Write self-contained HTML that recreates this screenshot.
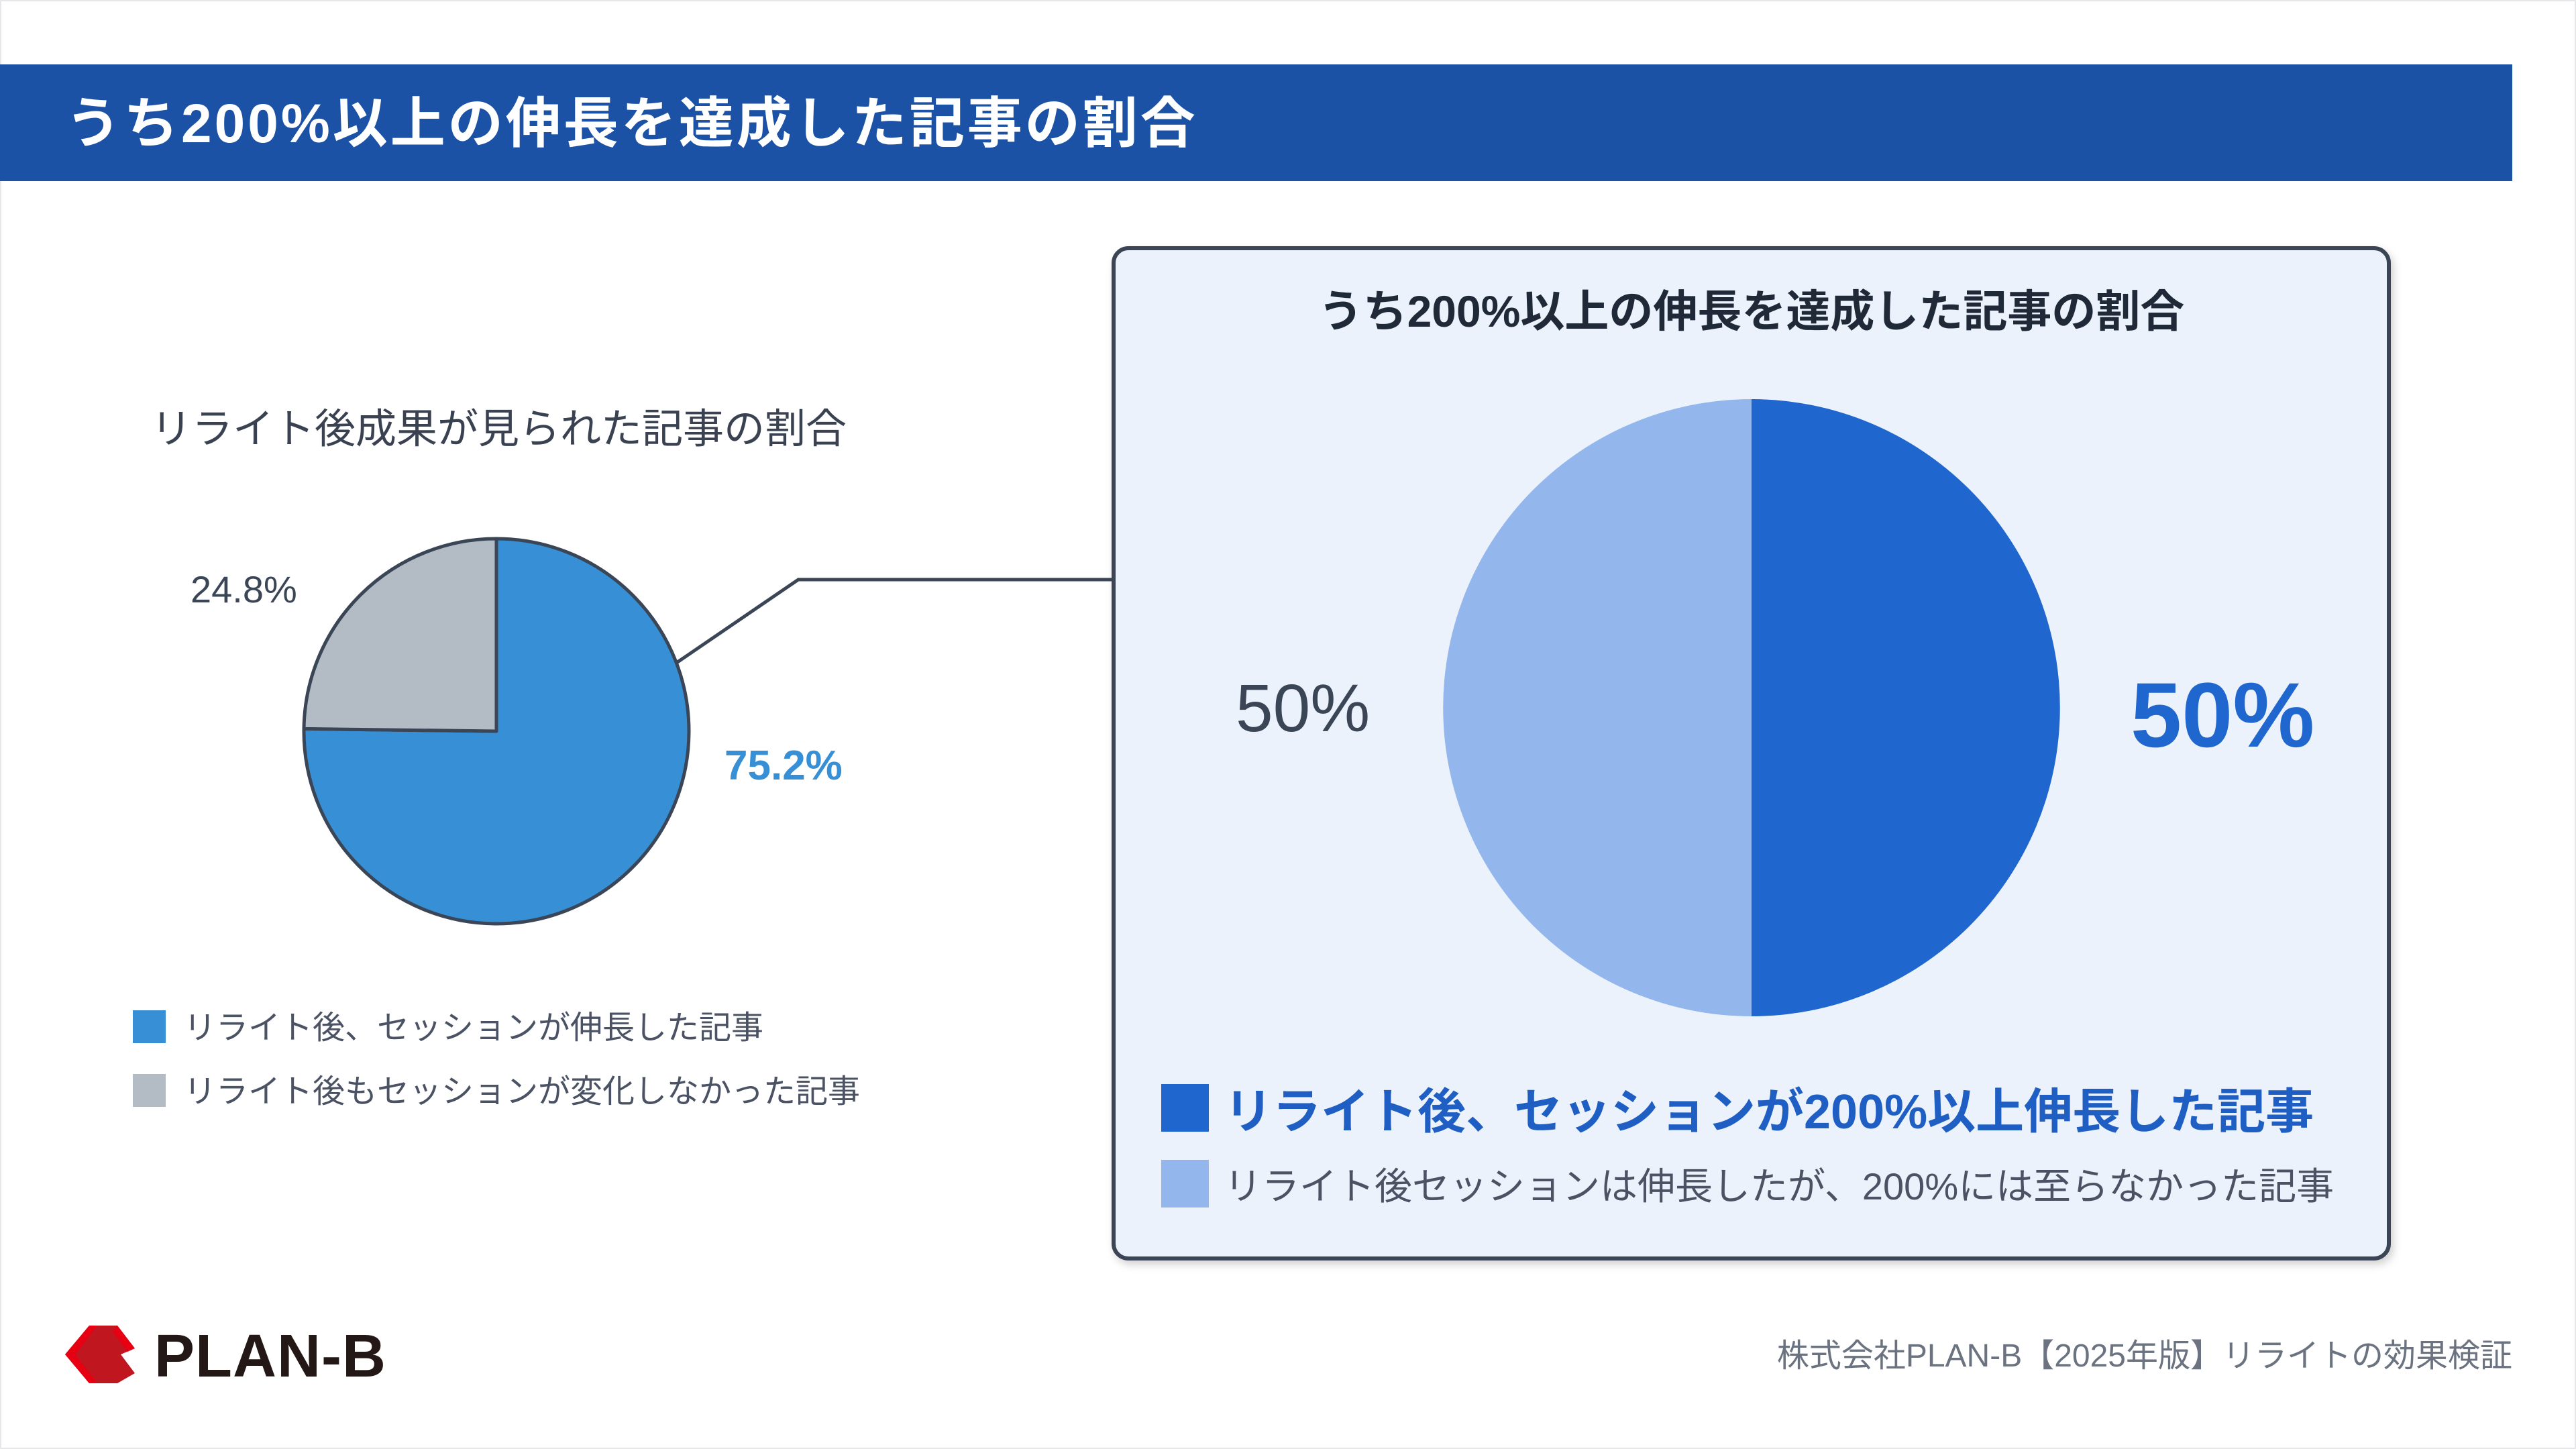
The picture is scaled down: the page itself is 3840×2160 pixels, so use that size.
<!DOCTYPE html>
<html><head><meta charset="utf-8"><style>
html,body{margin:0;padding:0;background:#fff;}
svg{display:block;font-family:"Liberation Sans","Noto Sans CJK JP",sans-serif;}
</style></head><body>
<svg width="3840" height="2160" viewBox="0 0 3840 2160" xmlns="http://www.w3.org/2000/svg">
<defs><filter id="sh" x="-5%" y="-5%" width="110%" height="110%"><feDropShadow dx="4" dy="6" stdDeviation="6" flood-color="#000" flood-opacity="0.18"/></filter></defs>
<rect x="0" y="0" width="3840" height="2160" fill="#fff" stroke="#e5e7eb" stroke-width="4"/>
<rect x="0" y="96" width="3745" height="174" fill="#1c52a6"/>
<text x="98" y="212" font-size="82" font-weight="700" fill="#fff" letter-spacing="4">うち200%以上の伸長を達成した記事の割合</text>

<text x="225" y="660" font-size="61" fill="#3a4150">リライト後成果が見られた記事の割合</text>
<g id="leftPie"></g>
<text x="284" y="898" font-size="56" fill="#3a4556" id="lblL1">24.8%</text>
<text x="1080" y="1162" font-size="62" font-weight="700" fill="#3790d6" id="lblL2">75.2%</text>
<polyline points="1007,989 1190,864 1660,864" fill="none" stroke="#3a4556" stroke-width="5"/>

<rect x="198" y="1506" width="49" height="49" fill="#3790d6"/>
<text x="274" y="1548" font-size="48" fill="#4a5263">リライト後、セッションが伸長した記事</text>
<rect x="198" y="1601" width="49" height="49" fill="#b3bcc5"/>
<text x="274" y="1643" font-size="48" fill="#4a5263">リライト後もセッションが変化しなかった記事</text>

<rect x="1660" y="370" width="1901" height="1506" rx="22" fill="#ebf2fc" stroke="#3a4556" stroke-width="6" filter="url(#sh)"/>
<text x="2611" y="487" font-size="66" font-weight="700" fill="#1f2937" text-anchor="middle">うち200%以上の伸長を達成した記事の割合</text>
<g id="rightPie"></g>
<text x="1842" y="1090" font-size="100" fill="#3a4556" id="lblR2">50%</text>
<text x="3176" y="1113" font-size="137" font-weight="700" fill="#1f66cf" id="lblR1">50%</text>

<rect x="1731" y="1616" width="71" height="71" fill="#1f66cf"/>
<text x="1825" y="1682" font-size="72" font-weight="700" fill="#1f5fc4">リライト後、セッションが200%以上伸長した記事</text>
<rect x="1731" y="1729" width="71" height="71" fill="#93b6ec"/>
<text x="1825" y="1788" font-size="56" fill="#4a5263">リライト後セッションは伸長したが、200%には至らなかった記事</text>

<g>
<polygon points="133,1976 175,1976 201,2010 180,2019 201,2047 175,2062 133,2062 97,2019" fill="#c0161f"/>
<polygon points="97,2019 133,1976 145,1976 112,2019 145,2062 133,2062" fill="#e60012"/>
<polygon points="175,1976 201,2010 190,2015 168,1985" fill="#e60012"/>
<text x="230" y="2052" font-size="90" font-weight="700" fill="#231815" letter-spacing="1">PLAN-B</text>
</g>
<text x="3745" y="2037" font-size="48" fill="#6b7280" text-anchor="end">株式会社PLAN-B【2025年版】リライトの効果検証</text>
</svg>
<script>
const leftCategories = ["grew", "unchanged"];
const leftValues = [75.2, 24.8];
const leftColors = ["#3790d6", "#b3bcc5"];
const rightCategories = ["over-200", "under-200"];
const rightValues = [50, 50];
const rightColors = ["#1f66cf", "#93b6ec"];
const NS = "http://www.w3.org/2000/svg";
function drawPie(gid, cats, vals, cols, cx, cy, r, stroke, sw) {
  const g = document.getElementById(gid);
  const total = vals.reduce((a, b) => a + b, 0);
  let a0 = -Math.PI / 2;
  vals.forEach((v, i) => {
    const a1 = a0 + v / total * 2 * Math.PI;
    const x0 = cx + r * Math.cos(a0), y0 = cy + r * Math.sin(a0);
    const x1 = cx + r * Math.cos(a1), y1 = cy + r * Math.sin(a1);
    const large = (a1 - a0) > Math.PI ? 1 : 0;
    const p = document.createElementNS(NS, "path");
    p.setAttribute("d", `M${cx},${cy} L${x0},${y0} A${r},${r} 0 ${large} 1 ${x1},${y1} Z`);
    p.setAttribute("fill", cols[i]);
    if (stroke) { p.setAttribute("stroke", stroke); p.setAttribute("stroke-width", sw); p.setAttribute("stroke-linejoin", "round"); }
    
    
    g.appendChild(p);
    a0 = a1;
  });
}
drawPie("leftPie", leftCategories, leftValues, leftColors, 740, 1090, 287, "#3a4556", 5);
drawPie("rightPie", rightCategories, rightValues, rightColors, 2611, 1055, 460, null, 0);
document.getElementById("lblL2").textContent = leftValues[0] + "%";
document.getElementById("lblL1").textContent = leftValues[1] + "%";
document.getElementById("lblR1").textContent = rightValues[0] + "%";
document.getElementById("lblR2").textContent = rightValues[1] + "%";
</script>
</body></html>
